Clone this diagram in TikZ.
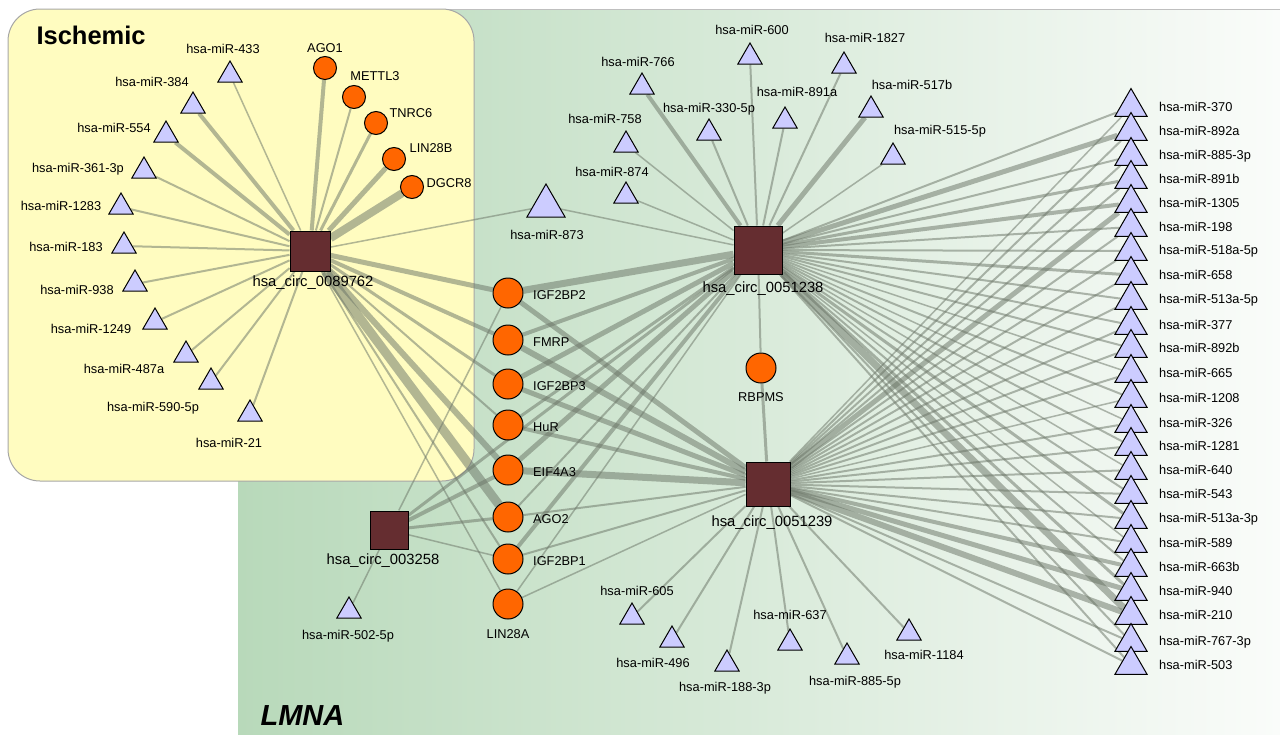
\documentclass[tikz,border=0pt]{standalone}
\usepackage{fontspec}
\setmainfont{Liberation Sans}
\usetikzlibrary{shapes.geometric,positioning}

\definecolor{circfill}{RGB}{101,45,48}
\definecolor{rbpfill}{RGB}{255,102,0}
\definecolor{mirfill}{RGB}{204,204,255}
\definecolor{linkgray}{RGB}{108,118,104}
\definecolor{ischyellow}{RGB}{255,252,192}
\definecolor{lmnagreen}{RGB}{184,217,186}
\definecolor{lmnawhite}{RGB}{250,252,250}

\pgfdeclarelayer{back}
\pgfdeclarelayer{edges}
\pgfsetlayers{back,edges,main}

\begin{document}
\begin{tikzpicture}[x=1pt,y=-1pt,
  circ node/.style={rectangle,fill=circfill,draw=black,line width=1pt,minimum size=40pt,inner sep=0pt},
  rbp node/.style={circle,fill=rbpfill,draw=black,line width=1pt,minimum size=30pt,inner sep=0pt},
  small rbp/.style={rbp node,minimum size=23pt},
  mir node/.style={regular polygon,regular polygon sides=3,fill=mirfill,draw=black,line width=1pt,minimum size=28pt,inner sep=0pt},
  col mir/.style={mir node,minimum size=37pt},
  lbl/.style={font=\fontsize{12.8}{14}\selectfont,inner sep=0pt},
  circ lbl/.style={font=\fontsize{14.8}{16}\selectfont,inner sep=0pt},
  link/.style={draw=linkgray,opacity=.52}]
  \useasboundingbox (0,0) rectangle (1280,734);

  \begin{pgfonlayer}{back}
    \fill[left color=lmnagreen,right color=lmnawhite] (238,9) rectangle (1280,734);
    \draw[gray!50,line width=1pt] (238,9) -- (1280,9);
    \draw[fill=ischyellow,draw=gray!70,line width=1pt,rounded corners=32pt] (8,9) rectangle (474,481);
  \end{pgfonlayer}

  \node[font=\fontsize{25.5}{28}\selectfont\bfseries,anchor=west] (ischemic) at (33,35) {Ischemic};
  \node[font=\fontsize{29}{32}\selectfont\bfseries\itshape,anchor=west] (lmna) at (257,716) {LMNA};

  % circRNAs
  \node[circ node] (c89) at (310,251) {};
  \node[circ lbl] (c89-t) at (313,283) {hsa\_circ\_0089762};
  \node[circ node,minimum size=48pt] (c38) at (758,250) {};
  \node[circ lbl] (c38-t) at (763,289) {hsa\_circ\_0051238};
  \node[circ node,minimum size=44pt] (c39) at (768,484) {};
  \node[circ lbl] (c39-t) at (772,523) {hsa\_circ\_0051239};
  \node[circ node,minimum size=38pt] (c58) at (389,530) {};
  \node[circ lbl] (c58-t) at (383,561) {hsa\_circ\_003258};

  % RBPs
  \foreach \n/\x/\y/\lx/\ly/\lab in {ago1/325/68/325/48/AGO1, mettl3/354/97/375/76/METTL3,
      tnrc6/376/123/411/113/TNRC6, lin28b/394/159/431/148/LIN28B, dgcr8/412/187/449/183/DGCR8}{
    \node[small rbp] (\n) at (\x,\y) {};
    \node[lbl] (\n-t) at (\lx,\ly) {\lab};
  }
  \foreach \n/\y/\lab in {igf2bp2/293/IGF2BP2, fmrp/340/FMRP, igf2bp3/384/IGF2BP3, hur/425/HuR,
      eif4a3/470/EIF4A3, ago2/517/AGO2, igf2bp1/559/IGF2BP1}{
    \node[rbp node] (\n) at (508,\y) {};
    \node[lbl,anchor=west] (\n-t) at (533,\y+2) {\lab};
  }
  \node[rbp node] (lin28a) at (508,604) {};
  \node[lbl] (lin28a-t) at (508,634) {LIN28A};
  \node[rbp node] (rbpms) at (761,368) {};
  \node[lbl] (rbpms-t) at (761,397) {RBPMS};

  % miRNAs
  \foreach \n/\x/\y/\lx/\ly/\lab in {m433/230/75/223/49/hsa-miR-433, m384/193/106/152/82/hsa-miR-384,
      m554/166/135/114/128/hsa-miR-554, m361/144/171/78/169/hsa-miR-361-3p,
      m1283/121/207/61/206/hsa-miR-1283, m183/124/246/66/247/hsa-miR-183,
      m938/135/284/77/290/hsa-miR-938, m1249/155/322/91/329/hsa-miR-1249,
      m487a/186/355/124/369/hsa-miR-487a, m590/211/382/153/408/hsa-miR-590-5p,
      m21/250/414/229/443/hsa-miR-21,
      m600/750/57/752/30/hsa-miR-600, m766/642/87/638/62/hsa-miR-766,
      m1827/844/66/865/38/hsa-miR-1827, m891a/785/121/797/92/hsa-miR-891a,
      m517b/871/110/912/85/hsa-miR-517b, m330/709/133/709/109/hsa-miR-330-5p,
      m758/626/145/605/119/hsa-miR-758, m874/626/196/612/172/hsa-miR-874,
      m515/893/157/940/131/hsa-miR-515-5p, m502/349/611/348/636/hsa-miR-502-5p,
      m605/632/617/637/591/hsa-miR-605, m496/672/640/653/663/hsa-miR-496,
      m188/727/664/725/688/hsa-miR-188-3p, m637/790/643/790/615/hsa-miR-637,
      m885/847/657/855/682/hsa-miR-885-5p, m1184/909/633/924/655/hsa-miR-1184}{
    \node[mir node] (\n) at (\x,\y) {};
    \node[lbl] (\n-t) at (\lx,\ly) {\lab};
  }
  \node[mir node,minimum size=44pt] (m873) at (546,206) {};
  \node[lbl] (m873-t) at (547,235) {hsa-miR-873};

  \begin{pgfonlayer}{edges}
    \foreach \m/\w in {m433/1.5,m384/4,m554/4,m361/2,m1283/2,m183/2,m938/2,m1249/2,m487a/2,
        m590/2,m21/2,ago1/4,mettl3/2,tnrc6/3,lin28b/5,dgcr8/8,m873/1.5}
      \draw[link,line width=\w pt] (c89) -- (\m);
    \foreach \r/\wa/\wb/\wc in {igf2bp2/5/7/5, fmrp/4/4/6, igf2bp3/3/5/5, hur/2/3/4,
        eif4a3/6/5/7, ago2/9/2/2, igf2bp1/2/4/2, lin28a/1.5/1.5/1.5}{
      \draw[link,line width=\wa pt] (c89) -- (\r);
      \draw[link,line width=\wb pt] (c38) -- (\r);
      \draw[link,line width=\wc pt] (c39) -- (\r);
    }
    \foreach \m/\w in {igf2bp2/1.5,eif4a3/4,ago2/3,igf2bp1/1.5,m502/1.5,c38/3}
      \draw[link,line width=\w pt] (c58) -- (\m);
    \foreach \m/\w in {m874/1.5,m758/1.5,m766/4,m330/2,m600/2,m891a/2,m1827/2,m517b/5,
        m515/1.5,m873/1.5,rbpms/2}
      \draw[link,line width=\w pt] (c38) -- (\m);
    \foreach \m/\w in {rbpms/3,m605/2,m496/2,m188/2,m637/2,m885/2,m1184/2}
      \draw[link,line width=\w pt] (c39) -- (\m);
  \end{pgfonlayer}

  % miRNA column on the right
  \foreach \lab/\y/\wa/\wb [count=\i] in {hsa-miR-370/107/2/1.5, hsa-miR-892a/131/5/2,
      hsa-miR-885-3p/156/2/2, hsa-miR-891b/179/3/2, hsa-miR-1305/203/4/5, hsa-miR-198/227/2/2,
      hsa-miR-518a-5p/251/2/2, hsa-miR-658/275/3/2, hsa-miR-513a-5p/300/2/2, hsa-miR-377/325/2/2,
      hsa-miR-892b/348/2/2, hsa-miR-665/373/1.5/2, hsa-miR-1208/398/2/1.5, hsa-miR-326/423/1.5/2,
      hsa-miR-1281/446/2/2, hsa-miR-640/470/1.5/2, hsa-miR-543/494/2/2, hsa-miR-513a-3p/519/3/2,
      hsa-miR-589/543/1.5/2, hsa-miR-663b/567/2/4, hsa-miR-940/591/3/5, hsa-miR-210/615/7/6,
      hsa-miR-767-3p/642/2/2, hsa-miR-503/665/2/2}{
    \node[col mir] (r\i) at (1131,\y) {};
    \node[lbl,anchor=west] (r\i-t) at (1159,\y) {\lab};
    \begin{pgfonlayer}{edges}
      \draw[link,line width=\wa pt] (c38) -- (r\i);
      \draw[link,line width=\wb pt] (c39) -- (r\i);
    \end{pgfonlayer}
  }
\end{tikzpicture}
\end{document}
